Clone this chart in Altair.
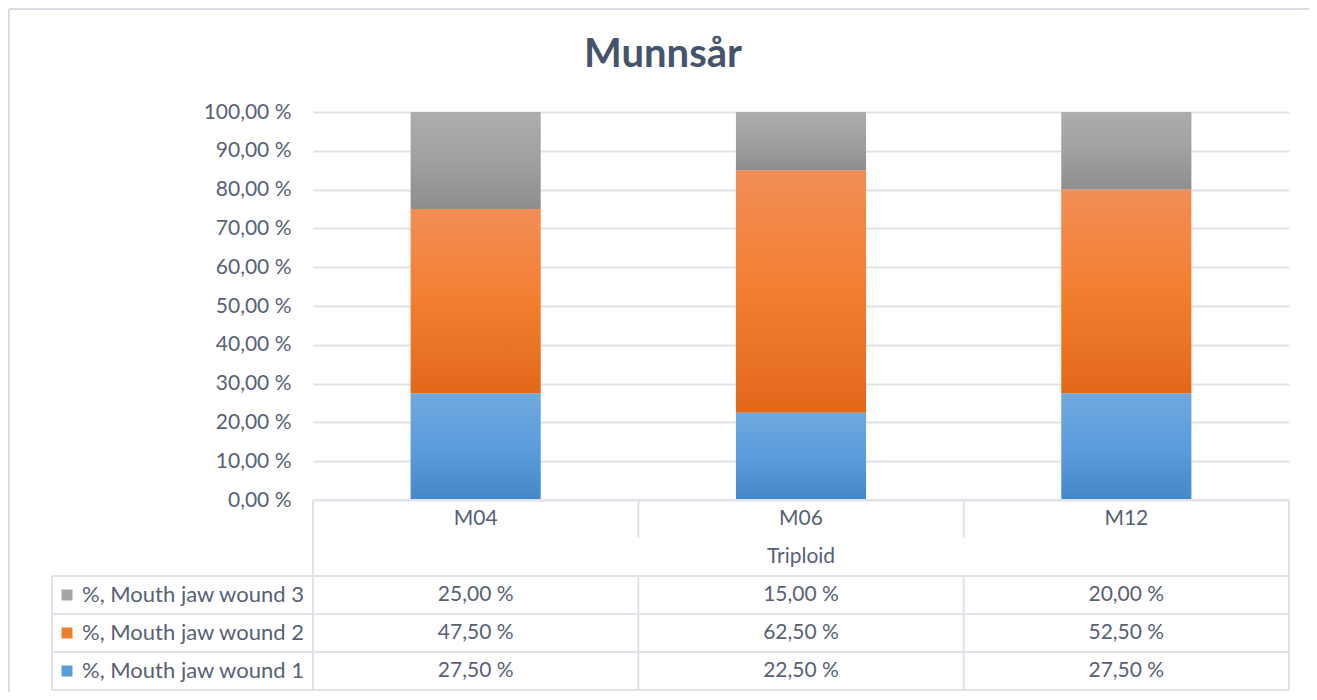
import altair as alt
import pandas as pd

# ---- data ----
categories = ["M04", "M06", "M12"]
group_label = "Triploid"
series_names = ["%, Mouth jaw wound 1", "%, Mouth jaw wound 2", "%, Mouth jaw wound 3"]
wound1 = [27.5, 22.5, 27.5]
wound2 = [47.5, 62.5, 52.5]
wound3 = [25.0, 15.0, 20.0]
title_text = "Munnsår"

# ---- layout / style ----
W, H, ROW, LEGW = 976, 388, 38, 261
PAD_L, PAD_T, PAD_R, PAD_B = 305, 104, 20, 192
FONT = "Lato"
FS = 21
TXT = "#586174"
LINE = "#dfe3e9"

gradients = {
    series_names[0]: ["#70a9de", "#5b9cdc", "#4488c8"],
    series_names[1]: ["#f18e56", "#f37e30", "#e2681a"],
    series_names[2]: ["#adadad", "#a0a0a0", "#8e8e8e"],
}
legend_colors = {series_names[0]: "#5b9bd5", series_names[1]: "#ed7d31", series_names[2]: "#a5a5a5"}

values = [wound1, wound2, wound3]
rows = []
for s_i, (name, vals) in enumerate(zip(series_names, values)):
    for c_i, (cat, v) in enumerate(zip(categories, vals)):
        rows.append({"cat": cat, "series": name, "order": s_i, "value": v,
                     "row": 4.5 - s_i})
df = pd.DataFrame(rows)

xscale = alt.Scale(domain=categories, paddingInner=0.6, paddingOuter=0.3)
fmt = "replace(format(datum.value, '.2f'), '.', ',') + ' %'"

base = alt.Chart(df).transform_stack(
    stack="value", groupby=["cat"], as_=["y0", "y1"],
    sort=[alt.SortField("order", order="ascending")]
)

yaxis = alt.Axis(values=list(range(0, 101, 10)), labelExpr=fmt,
                 title=None, domain=False, ticks=False,
                 labelPadding=22, labelFont=FONT, labelFontSize=FS,
                 labelColor=TXT, gridColor=LINE, gridWidth=2)
yscale = alt.Scale(domain=[0, 100], nice=False)

bar_layers = []
for i, name in enumerate(series_names):
    c = gradients[name]
    grad = alt.Gradient(
        gradient="linear",
        stops=[alt.GradientStop(color=c[0], offset=0),
               alt.GradientStop(color=c[1], offset=0.5),
               alt.GradientStop(color=c[2], offset=1)],
        x1=0, x2=0, y1=0, y2=1,
    )
    bar_layers.append(
        base.transform_filter(alt.datum.series == name)
        .mark_bar(color=grad)
        .encode(x=alt.X("cat:N", scale=xscale, axis=None),
                y=alt.Y("y0:Q", scale=yscale, axis=yaxis), y2="y1:Q")
    )
bars = alt.layer(*bar_layers)

# ---- data table grid lines (derived from layout) ----
seg = []
def hline(y, x0, x1):
    seg.append({"x": x0, "x2": x1, "y": y, "y2": y})
def vline(x, y0, y1):
    seg.append({"x": x, "x2": x, "y": y0, "y2": y1})
hline(H, 0, W)
for k in range(2, 6):
    hline(H + k * ROW, -LEGW, W)
vline(0, H, H + 5 * ROW)
vline(W, H, H + 5 * ROW)
for k in (1, 2):
    vline(W * k / 3, H, H + ROW)
    vline(W * k / 3, H + 2 * ROW, H + 5 * ROW)
vline(-LEGW, H + 2 * ROW, H + 5 * ROW)
segdf = pd.DataFrame(seg)
grid = alt.Chart(segdf).mark_rule(color=LINE, strokeWidth=2).encode(
    x=alt.X("x:Q", scale=None, axis=None), x2="x2:Q",
    y=alt.Y("y:Q", scale=None, axis=None), y2="y2:Q")

# outer chart border (top and left)
border = pd.DataFrame([
    {"x": -PAD_L + 1, "x2": W + PAD_R, "y": -PAD_T + 1, "y2": -PAD_T + 1},
    {"x": -PAD_L + 1, "x2": -PAD_L + 1, "y": -PAD_T + 1, "y2": H + PAD_B},
])
border_l = alt.Chart(border).mark_rule(color="#dadde3", strokeWidth=2).encode(
    x=alt.X("x:Q", scale=None, axis=None), x2="x2:Q",
    y=alt.Y("y:Q", scale=None, axis=None), y2="y2:Q")

# ---- title as text ----
title_df = pd.DataFrame({"t": [title_text]})
title_l = alt.Chart(title_df).mark_text(
    font=FONT, fontSize=40, fontWeight="bold", color="#44546a",
    baseline="alphabetic", align="center").encode(
    x=alt.value(350), y=alt.value(-45), text="t:N")

# ---- table text ----
cells = alt.Chart(df).transform_calculate(
    label=fmt, ty=f"{H} + datum.row * {ROW}"
).mark_text(font=FONT, fontSize=FS, color=TXT, baseline="middle").encode(
    x=alt.X("cat:N", scale=xscale, axis=None),
    y=alt.Y("ty:Q", scale=None, axis=None),
    text="label:N")

cat_df = pd.DataFrame({"cat": categories})
cat_text = alt.Chart(cat_df).transform_calculate(ty=f"{H} + 0.5 * {ROW}").mark_text(
    font=FONT, fontSize=FS, color=TXT, baseline="middle").encode(
    x=alt.X("cat:N", scale=xscale, axis=None),
    y=alt.Y("ty:Q", scale=None, axis=None),
    text="cat:N")

grp_df = pd.DataFrame({"g": [group_label]})
grp_text = alt.Chart(grp_df).transform_calculate(ty=f"{H} + 1.5 * {ROW}").mark_text(
    font=FONT, fontSize=FS, color=TXT, baseline="middle").encode(
    x=alt.value(W / 2), y=alt.Y("ty:Q", scale=None, axis=None), text="g:N")

leg_df = pd.DataFrame({"series": series_names, "row": [4.5, 3.5, 2.5]})
leg_text = alt.Chart(leg_df).transform_calculate(ty=f"{H} + datum.row * {ROW}").mark_text(
    font=FONT, fontSize=FS + 1, color=TXT, baseline="middle", align="left").encode(
    x=alt.value(-LEGW + 30), y=alt.Y("ty:Q", scale=None, axis=None), text="series:N")
leg_sq = alt.Chart(leg_df).transform_calculate(ty=f"{H} + datum.row * {ROW}").mark_square(
    size=120, opacity=1).encode(
    x=alt.value(-LEGW + 15), y=alt.Y("ty:Q", scale=None, axis=None),
    color=alt.Color("series:N", scale=alt.Scale(domain=series_names,
                    range=[legend_colors[s] for s in series_names]), legend=None))

chart = alt.layer(border_l, bars, grid, cells, cat_text, grp_text, leg_text, leg_sq, title_l).resolve_scale(
    x="independent", y="independent"
).properties(
    width=W, height=H,
    background="white",
    autosize=alt.AutoSizeParams(type="none"),
    padding={"left": PAD_L, "top": PAD_T, "right": PAD_R, "bottom": PAD_B},
).configure_view(strokeWidth=0, stroke="transparent")

chart.save("out.html", embed_options={"renderer": "svg", "actions": False})
